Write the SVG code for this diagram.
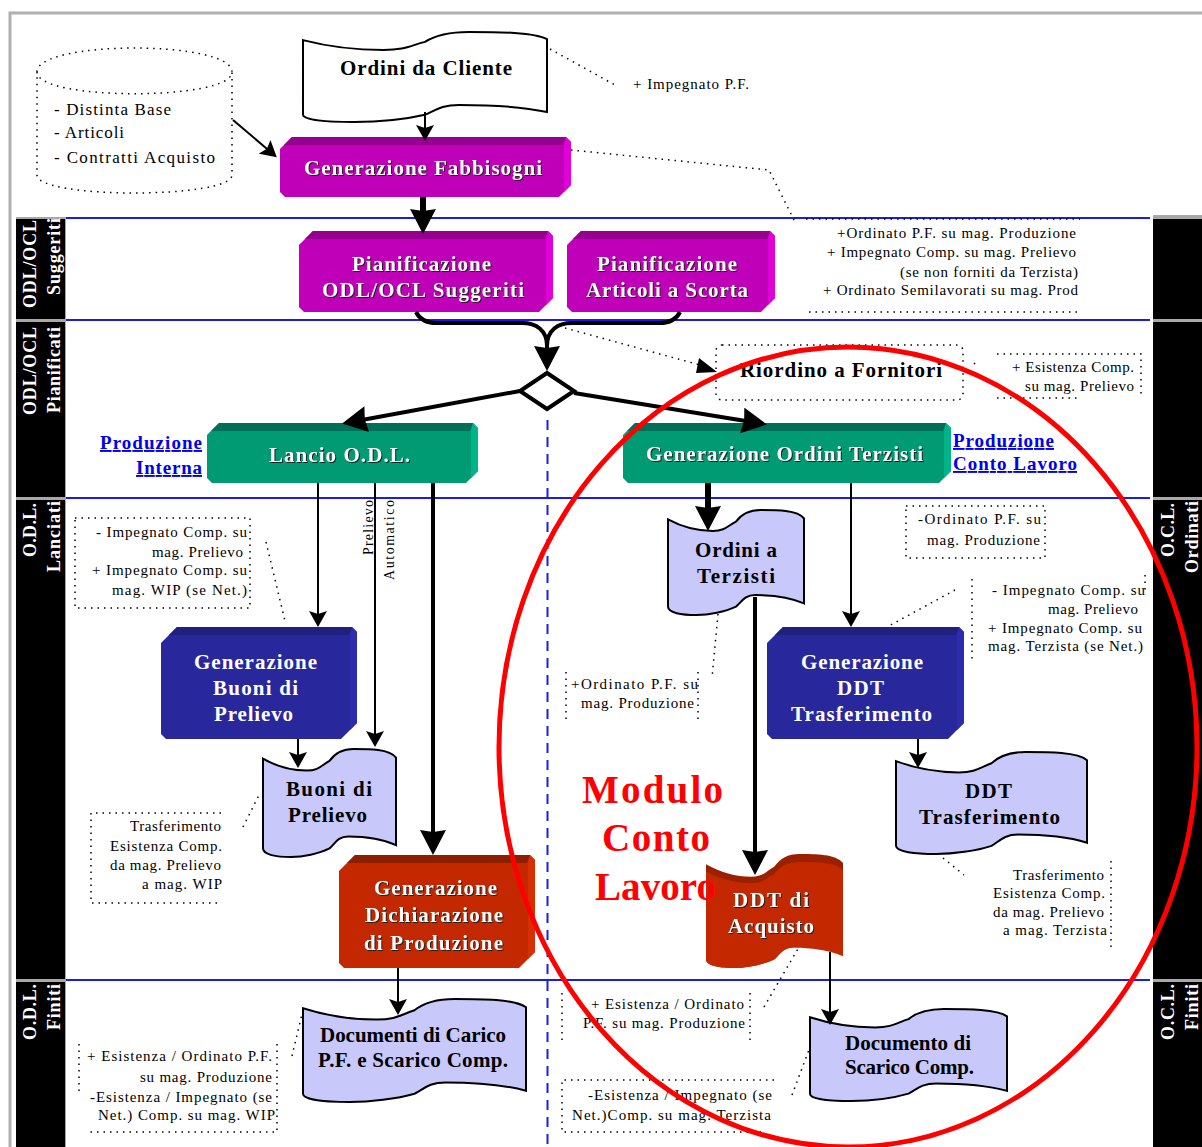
<svg xmlns="http://www.w3.org/2000/svg" width="1202" height="1147" viewBox="0 0 1202 1147">
<style>
text{font-family:"Liberation Serif","Times New Roman",serif;fill:#000}
.t19{font-size:21px;font-weight:bold}
.w{fill:#fff;filter:drop-shadow(1px 1px 0 #222)}
.n{font-size:15px}
.d{font-size:17px}
.side{font-size:18px;font-weight:bold;fill:#fff}
.rot{font-size:14px}
.link{font-size:19px;font-weight:bold;fill:#0000ee;text-decoration:underline}
.mod{font-size:39px;font-weight:bold;fill:#ff0000}
.blue{stroke:#1c1ce6;stroke-width:2;fill:none}
.dot{stroke:#000;stroke-width:1.5;stroke-dasharray:1.5 5;fill:none}
.doc{stroke:#000;stroke-width:2;vector-effect:non-scaling-stroke}
.purple .m{fill:#c000b8}.purple .t{fill:#96008e}.purple .r{fill:#e000d8}
.green .m{fill:#009b72}.green .t{fill:#006f58}.green .r{fill:#00b388}
.navy .m{fill:#28289c}.navy .t{fill:#20207e}.navy .r{fill:#2c2cae}
.red .m{fill:#c32800}.red .t{fill:#8e1e00}.red .r{fill:#d63000}
.lav{fill:#c8c8fa}.wht{fill:#fff}
.l2{stroke:#000;stroke-width:2;fill:none}
.l4{stroke:#000;stroke-width:4;fill:none}
.l6{stroke:#000;stroke-width:6;fill:none}
.as{marker-end:url(#aS)}.al{marker-end:url(#aL)}
</style>
<defs>
<marker id="aS" markerUnits="userSpaceOnUse" markerWidth="18" markerHeight="18" viewBox="0 0 16 18" refX="11" refY="9" orient="auto"><path d="M0,0 L16,9 L0,18 L3,9 Z" fill="#000"/></marker>
<marker id="aL" markerUnits="userSpaceOnUse" markerWidth="26" markerHeight="26" viewBox="0 0 25 26" refX="16" refY="13" orient="auto"><path d="M0,0 L25,13 L0,26 L2,13 Z" fill="#000"/></marker>
<path id="docShape" class="doc" d="M0,9 C10,16 22,20 33,20 C42,20 44,15 50,11 C54,4 60,0 68,0 C80,0 95,0 100,8 L100,89 C88,82 72,81 64,81 C56,81 54,88 50,92 C42,97 30,100 21,100 C10,100 0,98 0,92 Z"/>
<path id="docFill" d="M0,9 C10,16 22,20 33,20 C42,20 44,15 50,11 C54,4 60,0 68,0 C80,0 95,0 100,8 L100,89 C88,82 72,81 64,81 C56,81 54,88 50,92 C42,97 30,100 21,100 C10,100 0,98 0,92 Z"/>
</defs>
<rect width="1202" height="1147" fill="#fff"/>
<g id="frame">
<path d="M10,1147 V13 H1202" fill="none" stroke="#b0b0b0" stroke-width="3"/>
<rect x="16" y="217" width="50" height="930" fill="#a8a8a8"/>
<rect x="1153" y="215" width="49" height="932" fill="#a8a8a8"/>
<rect x="16" y="219" width="49" height="100" fill="#000"/>
<rect x="16" y="322" width="49" height="175" fill="#000"/>
<rect x="16" y="500" width="49" height="479" fill="#000"/>
<rect x="16" y="982" width="49" height="165" fill="#000"/>
<rect x="1153" y="219" width="49" height="100" fill="#000"/>
<rect x="1153" y="322" width="49" height="175" fill="#000"/>
<rect x="1153" y="500" width="49" height="479" fill="#000"/>
<rect x="1153" y="982" width="49" height="165" fill="#000"/>
<path class="blue" d="M66,218 H1150 M66,320 H1150 M66,498 H1150 M66,980 H1150"/>
<path class="blue" d="M547.5,420 V1147" stroke-dasharray="10 7"/>
</g>
<g id="lane-labels">
<text class="side" transform="translate(36,220) rotate(-90)" text-anchor="end" textLength="88">ODL/OCL</text>
<text class="side" transform="translate(60,218) rotate(-90)" text-anchor="end" textLength="77">Suggeriti</text>
<text class="side" transform="translate(36,327) rotate(-90)" text-anchor="end" textLength="88">ODL/OCL</text>
<text class="side" transform="translate(60,327) rotate(-90)" text-anchor="end" textLength="86">Pianificati</text>
<text class="side" transform="translate(36,503) rotate(-90)" text-anchor="end" textLength="54">O.D.L.</text>
<text class="side" transform="translate(60,501) rotate(-90)" text-anchor="end" textLength="71">Lanciati</text>
<text class="side" transform="translate(36,984) rotate(-90)" text-anchor="end" textLength="56">O.D.L.</text>
<text class="side" transform="translate(60,984) rotate(-90)" text-anchor="end" textLength="46">Finiti</text>
<text class="side" transform="translate(1174,503) rotate(-90)" text-anchor="end" textLength="54">O.C.L.</text>
<text class="side" transform="translate(1198,501) rotate(-90)" text-anchor="end" textLength="72">Ordinati</text>
<text class="side" transform="translate(1174,984) rotate(-90)" text-anchor="end" textLength="56">O.C.L.</text>
<text class="side" transform="translate(1198,984) rotate(-90)" text-anchor="end" textLength="46">Finiti</text>
</g>
<g id="db">
<path class="dot" d="M37,72 C37,40 232,40 232,72 C232,101 37,101 37,72 V175 C37,199 232,199 232,175 V72"/>
<text class="d" x="54" y="115" textLength="117">- Distinta Base</text>
<text class="d" x="54" y="138" textLength="70">- Articoli</text>
<text class="d" x="54" y="163" textLength="161">- Contratti Acquisto</text>
</g>
<g id="ordini-cliente">
<use href="#docShape" class="wht" transform="translate(303,32) scale(2.44,.9)"/>
<text class="t19" x="340" y="75" textLength="172">Ordini da Cliente</text>
</g>
<g id="generazione-fabbisogni" class="purple">
<polygon class="m" points="292,137 566,137 571,142 571,185 559,197 285,197 280,192 280,149"/>
<polygon class="t" points="292,137 566,137 563,145 284,145"/>
<polygon class="r" points="566,137 571,142 571,185 564,192 564,145"/>
<text class="t19 w" x="304" y="175" textLength="238">Generazione Fabbisogni</text>
</g>
<g id="pianificazione-odl" class="purple">
<polygon class="m" points="313,231 548,231 553,236 553,298 539,312 304,312 299,307 299,245"/>
<polygon class="t" points="313,231 548,231 545,239 305,239"/>
<polygon class="r" points="548,231 553,236 553,298 546,305 546,239"/>
<text class="t19 w" x="352" y="271" textLength="139">Pianificazione</text>
<text class="t19 w" x="322" y="297" textLength="202">ODL/OCL Suggeriti</text>
</g>
<g id="pianificazione-articoli" class="purple">
<polygon class="m" points="581,231 770,231 775,236 775,298 761,312 572,312 567,307 567,245"/>
<polygon class="t" points="581,231 770,231 767,239 573,239"/>
<polygon class="r" points="770,231 775,236 775,298 768,305 768,239"/>
<text class="t19 w" x="597" y="271" textLength="140">Pianificazione</text>
<text class="t19 w" x="586" y="297" textLength="162">Articoli a Scorta</text>
</g>
<g id="lancio-odl" class="green">
<polygon class="m" points="219,423 473,423 478,428 478,471 466,483 212,483 207,478 207,435"/>
<polygon class="t" points="219,423 473,423 470,431 211,431"/>
<polygon class="r" points="473,423 478,428 478,471 471,478 471,431"/>
<text class="t19 w" x="269" y="462" textLength="141">Lancio O.D.L.</text>
</g>
<g id="generazione-ordini" class="green">
<polygon class="m" points="635,423 946,423 951,428 951,471 939,483 628,483 623,478 623,435"/>
<polygon class="t" points="635,423 946,423 943,431 627,431"/>
<polygon class="r" points="946,423 951,428 951,471 944,478 944,431"/>
<text class="t19 w" x="646" y="461" textLength="277">Generazione Ordini Terzisti</text>
</g>
<g id="links">
<text class="link" x="100" y="449" textLength="102">Produzione</text>
<text class="link" x="136" y="474" textLength="66">Interna</text>
<text class="link" x="953" y="447" textLength="101">Produzione</text>
<text class="link" x="953" y="470" textLength="124">Conto Lavoro</text>
</g>
<g id="generazione-buoni" class="navy">
<polygon class="m" points="177,627 352,627 357,632 357,723 341,739 166,739 161,734 161,643"/>
<polygon class="t" points="177,627 352,627 349,635 169,635"/>
<polygon class="r" points="352,627 357,632 357,723 350,730 350,635"/>
<text class="t19" style="fill:#fff" x="194" y="669" textLength="123">Generazione</text>
<text class="t19" style="fill:#fff" x="213" y="695" textLength="85">Buoni di</text>
<text class="t19" style="fill:#fff" x="214" y="721" textLength="79">Prelievo</text>
</g>
<g id="buoni">
<use href="#docShape" class="lav" transform="translate(263,749) scale(1.33,1.08)"/>
<text class="t19" x="286" y="796" textLength="86">Buoni di</text>
<text class="t19" x="288" y="822" textLength="79">Prelievo</text>
</g>
<g id="generazione-dichiarazione" class="red">
<polygon class="m" points="355,855 530,855 535,860 535,952 519,968 344,968 339,963 339,871"/>
<polygon class="t" points="355,855 530,855 527,863 347,863"/>
<polygon class="r" points="530,855 535,860 535,952 528,959 528,863"/>
<text class="t19 w" x="374" y="895" textLength="123">Generazione</text>
<text class="t19 w" x="365" y="922" textLength="138">Dichiarazione</text>
<text class="t19 w" x="364" y="950" textLength="139">di Produzione</text>
</g>
<g id="documenti-carico">
<use href="#docShape" class="lav" transform="translate(303,999) scale(2.23,1.03)"/>
<text class="t19" x="320" y="1042" textLength="186">Documenti di Carico</text>
<text class="t19" x="318" y="1067" textLength="190">P.F. e Scarico Comp.</text>
</g>
<g id="ordini-terzisti">
<use href="#docShape" class="lav" transform="translate(668,510) scale(1.36,1.05)"/>
<text class="t19" x="695" y="557" textLength="82">Ordini a</text>
<text class="t19" x="697" y="583" textLength="78">Terzisti</text>
</g>
<g id="generazione-ddt" class="navy">
<polygon class="m" points="783,627 959,627 964,632 964,723 948,739 772,739 767,734 767,643"/>
<polygon class="t" points="783,627 959,627 956,635 775,635"/>
<polygon class="r" points="959,627 964,632 964,723 957,730 957,635"/>
<text class="t19" style="fill:#fff" x="801" y="669" textLength="122">Generazione</text>
<text class="t19" style="fill:#fff" x="837" y="695" textLength="47">DDT</text>
<text class="t19" style="fill:#fff" x="791" y="721" textLength="141">Trasferimento</text>
</g>
<g id="ddt-trasferimento">
<use href="#docShape" class="lav" transform="translate(896,752) scale(1.91,1.02)"/>
<text class="t19" x="965" y="798" textLength="47">DDT</text>
<text class="t19" x="919" y="824" textLength="141">Trasferimento</text>
</g>
<g id="ddt-acquisto">
<use href="#docFill" fill="#9a2000" transform="translate(706,854) scale(1.37,1.14)"/>
<use href="#docFill" fill="#c32800" transform="translate(706,862) scale(1.37,1.06)"/>
<text class="t19 w" x="733" y="907" textLength="76">DDT di</text>
<text class="t19 w" x="728" y="933" textLength="86">Acquisto</text>
</g>
<g id="documento-scarico">
<use href="#docShape" class="lav" transform="translate(810,1009) scale(1.97,.92)"/>
<text class="t19" x="845" y="1050" textLength="126">Documento di</text>
<text class="t19" x="845" y="1074" textLength="129">Scarico Comp.</text>
</g>
<g id="connectors">
<path class="l2 as" d="M233,120 L273,154"/>
<path class="l2 as" d="M425,112 V136"/>
<path class="l6 al" d="M423,197 V225"/>
<path class="l4" d="M416,312 C420,320 426,323 436,323 H522 C536,323 547,330 547,346"/>
<path class="l4" d="M680,312 C676,320 670,323 660,323 H572 C558,323 547,330 547,346"/>
<path class="l4 al" d="M547,340 V362"/>
<path class="l4 al" d="M520,391 L351,422"/>
<path class="l4 al" d="M574,393 L758,423"/>
<path class="l2 as" d="M318,483 V622"/>
<path class="l2 as" d="M375,483 V742"/>
<path class="l4 al" d="M433,483 V846"/>
<path class="l2 as" d="M298,739 V763"/>
<path class="l2 as" d="M398,968 V1010"/>
<path class="l6 al" d="M708,483 V522"/>
<path class="l2 as" d="M851,483 V622"/>
<path class="l4 al" d="M755,597 V866"/>
<path class="l2 as" d="M918,739 V763"/>
<path class="l2 as" d="M830,952 V1020"/>
<path class="dot" d="M550,49 L615,85"/>
<path class="dot" d="M571,150 L769,170 L796,224"/>
<path class="dot" d="M565,328 L700,365"/>
<path d="M699,358 L717,372 L696,373 Z" fill="#000"/>
<path class="dot" d="M974,363 L978,367"/>
<path class="dot" d="M266,542 L285,621"/>
<path class="dot" d="M243,827 L260,793"/>
<path class="dot" d="M292,1056 L302,1014"/>
<path class="dot" d="M955,590 L887,627"/>
<path class="dot" d="M718,614 L712,678"/>
<path class="dot" d="M943,858 L964,875"/>
<path class="dot" d="M764,1007 L799,947"/>
<path class="dot" d="M792,1095 L810,1047"/>
</g>
<g id="diamond"><polygon points="547,373 574,391 547,409 520,391" fill="#fff" stroke="#000" stroke-width="4"/></g>
<g id="riordino">
<rect class="dot" x="716" y="345" width="247" height="55" rx="6" stroke-width="2.5" stroke-dasharray="2 3"/>
<text class="t19" x="740" y="377" textLength="202">Riordino a Fornitori</text>
</g>
<g id="notes">
<g id="note-impegnato-pf"><text class="n" x="633" y="89" textLength="116">+ Impegnato P.F.</text></g>
<g id="note-suggeriti">
<path class="dot" d="M806,219 H1080 M809,312 H1082"/>
<text class="n" x="837" y="238" textLength="239">+Ordinato P.F. su mag. Produzione</text>
<text class="n" x="827" y="257" textLength="249">+ Impegnato Comp. su mag. Prelievo</text>
<text class="n" x="900" y="277" textLength="178">(se non forniti da Terzista)</text>
<text class="n" x="823" y="295" textLength="255">+ Ordinato Semilavorati su mag. Prod</text>
</g>
<g id="note-riordino">
<path class="dot" d="M997,354 H1141 V398 M997,398 H1080"/>
<text class="n" x="1012" y="372" textLength="122">+ Esistenza Comp.</text>
<text class="n" x="1025" y="391" textLength="109">su mag. Prelievo</text>
</g>
<g id="note-lanciati">
<rect class="dot" x="75" y="518" width="175" height="90"/>
<text class="n" x="96" y="537" textLength="151">- Impegnato Comp. su</text>
<text class="n" x="152" y="557" textLength="91">mag. Prelievo</text>
<text class="n" x="92" y="575" textLength="155">+ Impegnato Comp. su</text>
<text class="n" x="112" y="595" textLength="135">mag. WIP (se Net.)</text>
</g>
<g id="note-trasf-wip">
<path class="dot" d="M221,813 H91 V903 H221"/>
<text class="n" x="130" y="831" textLength="91">Trasferimento</text>
<text class="n" x="110" y="851" textLength="112">Esistenza Comp.</text>
<text class="n" x="110" y="870" textLength="111">da mag. Prelievo</text>
<text class="n" x="142" y="889" textLength="80">a mag. WIP</text>
</g>
<g id="note-finiti-odl">
<path class="dot" d="M79,1044 V1095 M277,1044 V1132 H90"/>
<text class="n" x="87" y="1061" textLength="185">+ Esistenza / Ordinato P.F.</text>
<text class="n" x="140" y="1082" textLength="132">su mag. Produzione</text>
<text class="n" x="90" y="1102" textLength="182">-Esistenza / Impegnato (se</text>
<text class="n" x="98" y="1120" textLength="177">Net.) Comp. su mag. WIP</text>
</g>
<g id="note-ordinato-pf">
<rect class="dot" x="906" y="506" width="139" height="52"/>
<text class="n" x="918" y="524" textLength="123">-Ordinato P.F. su</text>
<text class="n" x="927" y="545" textLength="113">mag. Produzione</text>
</g>
<g id="note-terzista">
<path class="dot" d="M972,579 V659 M1145,575 V590"/>
<text class="n" x="992" y="595" textLength="153">- Impegnato Comp. su</text>
<text class="n" x="1048" y="614" textLength="90">mag. Prelievo</text>
<text class="n" x="988" y="633" textLength="154">+ Impegnato Comp. su</text>
<text class="n" x="988" y="651" textLength="155">mag. Terzista (se Net.)</text>
</g>
<g id="note-ordinato-terz">
<path class="dot" d="M566,672 V722 M698,672 V722"/>
<text class="n" x="571" y="689" textLength="127">+Ordinato P.F. su</text>
<text class="n" x="581" y="708" textLength="113">mag. Produzione</text>
</g>
<g id="note-trasf-terz">
<path class="dot" d="M1111,861 V948"/>
<text class="n" x="1013" y="880" textLength="91">Trasferimento</text>
<text class="n" x="993" y="898" textLength="112">Esistenza Comp.</text>
<text class="n" x="993" y="917" textLength="111">da mag. Prelievo</text>
<text class="n" x="1003" y="935" textLength="104">a mag. Terzista</text>
</g>
<g id="note-finiti-ocl">
<path class="dot" d="M562,993 V1042 M750,993 V1042"/>
<text class="n" x="591" y="1009" textLength="153">+ Esistenza / Ordinato</text>
<text class="n" x="583" y="1028" textLength="162">P.F. su mag. Produzione</text>
</g>
<g id="note-scarico">
<path class="dot" d="M774,1080 H562 V1132 H764"/>
<text class="n" x="588" y="1100" textLength="184">-Esistenza / Impegnato (se</text>
<text class="n" x="572" y="1120" textLength="199">Net.)Comp. su mag. Terzista</text>
</g>
</g>
<g id="auto-label">
<text class="rot" transform="translate(373,500) rotate(-90)" text-anchor="end" textLength="55">Prelievo</text>
<text class="rot" transform="translate(394,500) rotate(-90)" text-anchor="end" textLength="80">Automatico</text>
</g>
<g id="modulo">
<ellipse cx="848" cy="747" rx="349" ry="400" fill="none" stroke="#ff0000" stroke-width="5"/>
<text class="mod" x="582" y="803" textLength="141">Modulo</text>
<text class="mod" x="602" y="851" textLength="108">Conto</text>
<text class="mod" x="595" y="900" textLength="121">Lavoro</text>
</g>
</svg>
